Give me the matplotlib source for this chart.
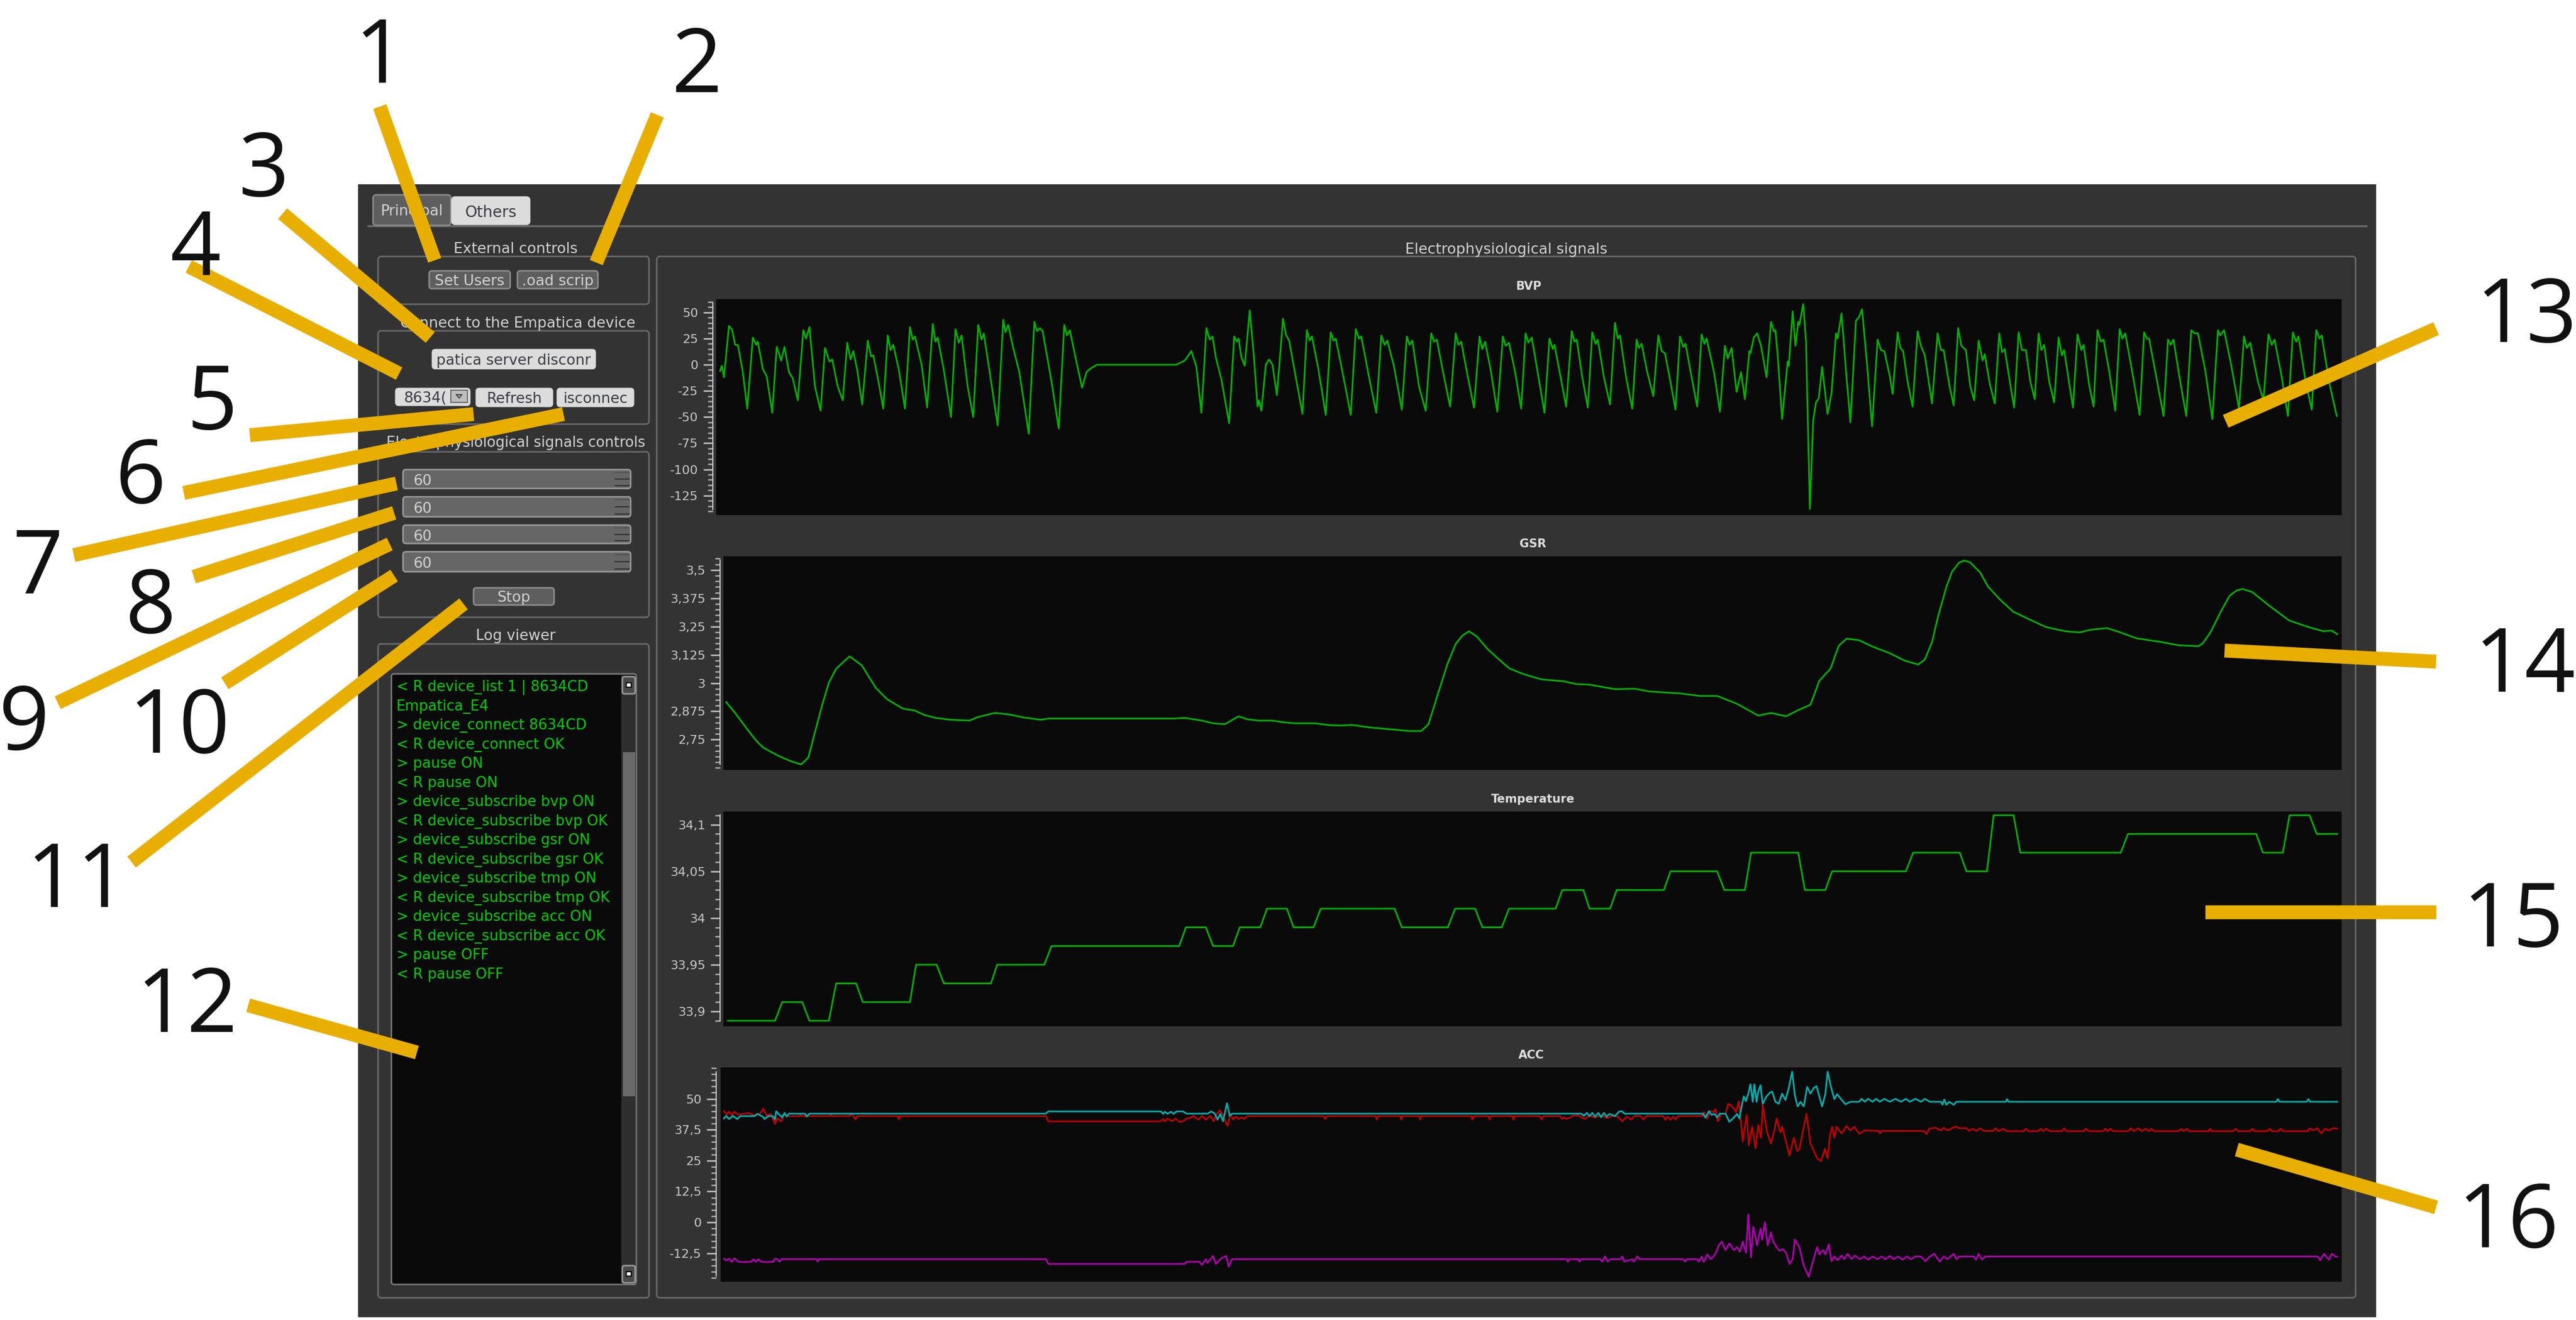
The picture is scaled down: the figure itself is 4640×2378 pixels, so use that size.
import matplotlib
matplotlib.use("Agg")
import matplotlib.pyplot as plt
from matplotlib.patches import FancyBboxPatch, Rectangle
from matplotlib.ticker import FixedLocator, FuncFormatter, MultipleLocator

W, H = 4640, 2378

# ---------------- data (x = sample number, y = signal value) ----------------
bvp_x = [0,3,7,16,22,27,32,41,49,59,65,68,77,84,94,102,110,116,124,131,140,150,155,161,171,181,189,197,202,212,221,229,235,240,247,256,266,272,276,286,294,302,307,312,322,333,342,347,351,363,373,383,388,392,403,416,424,430,435,446,456,465,471,475,485,500,510,514,519,528,539,556,566,571,576,581,597,610,620,625,630,641,652,660,669,679,822,837,849,858,867,876,882,887,893,903,917,926,931,934,939,945,954,962,968,971,975,983,989,995,1003,1014,1019,1025,1036,1049,1057,1062,1066,1077,1091,1100,1105,1109,1120,1136,1145,1151,1155,1169,1182,1191,1197,1202,1214,1228,1237,1242,1247,1259,1271,1281,1286,1291,1303,1315,1325,1330,1335,1347,1358,1368,1373,1378,1388,1400,1410,1415,1421,1432,1443,1451,1456,1462,1472,1485,1494,1500,1503,1513,1524,1534,1539,1543,1553,1563,1571,1577,1581,1592,1603,1612,1617,1621,1632,1643,1651,1655,1660,1670,1681,1690,1696,1702,1711,1721,1729,1735,1739,1750,1760,1768,1773,1777,1791,1801,1810,1815,1822,1831,1839,1846,1854,1856,1862,1868,1875,1885,1893,1898,1901,1905,1913,1923,1925,1932,1937,1942,1944,1951,1956,1963,1969,1974,1979,1985,1995,2002,2010,2013,2020,2029,2036,2046,2052,2057,2066,2075,2085,2091,2097,2107,2112,2121,2126,2131,2139,2148,2157,2163,2170,2183,2193,2199,2204,2214,2222,2230,2236,2244,2252,2259,2267,2274,2278,2287,2296,2304,2309,2314,2324,2331,2339,2345,2352,2360,2368,2375,2380,2385,2394,2403,2411,2417,2421,2431,2437,2445,2452,2456,2466,2474,2481,2487,2492,2503,2513,2521,2526,2531,2543,2557,2565,2570,2574,2586,2600,2608,2613,2618,2630,2641,2650,2656,2662,2675,2688,2698,2702,2709,2721,2736,2745,2750,2756,2770,2780,2789,2795,2800,2813,2824,2833,2839,2843,2856,2867,2875,2881,2885,2898,2912]
bvp_y = [-6,-1,-12,37,33,19,19,-7,-42,26,19,22,-4,-11,-46,17,4,17,-7,-13,-34,33,25,36,-21,-44,16,3,5,-21,-34,21,5,13,-5,-38,23,8,9,-18,-42,28,14,19,-5,-42,36,24,27,0,-41,39,22,26,-5,-50,34,21,28,-21,-50,38,24,30,-5,-58,43,31,38,16,-7,-66,41,32,35,32,-16,-61,38,28,33,5,-22,-7,-3,0,0,4,13,-2,-46,35,24,27,7,-14,-56,27,22,25,7,-1,52,5,-40,-34,-44,0,5,0,-29,44,29,23,-9,-47,33,23,27,-2,-48,31,23,25,-4,-48,34,25,27,-12,-46,28,19,23,-2,-43,27,19,23,-21,-44,30,22,24,-9,-40,30,19,22,-12,-41,27,15,22,-5,-45,27,18,21,-7,-42,30,21,26,-5,-46,25,15,19,-9,-40,32,22,24,-12,-41,31,20,24,-12,-38,40,25,28,-12,-42,24,16,20,-7,-30,28,13,11,-14,-43,27,17,20,-12,-40,29,20,25,-9,-45,18,6,16,-26,-7,-33,13,11,26,30,18,-12,41,32,33,9,-52,3,-1,51,18,41,38,58,23,-138,-53,-36,-32,-2,-47,-27,30,25,49,-12,-55,42,46,53,0,-59,24,14,13,-11,-28,31,16,13,-16,-40,32,18,9,-37,30,14,14,-19,-39,35,18,14,-21,-34,23,4,10,-18,-37,30,12,15,-19,-41,31,14,14,-16,-33,30,14,19,-16,-36,26,9,14,-21,-41,29,14,19,-19,-40,33,22,24,-9,-44,34,25,30,-5,-48,31,25,25,-9,-49,24,19,24,-16,-49,33,30,30,-5,-52,33,28,33,2,-42,27,16,21,-16,-34,29,19,24,-12,-49,31,22,27,-16,-43,33,25,28,-16,-49]

gsr_x = [0,15,30,45,56,66,81,96,117,135,148,158,173,185,198,222,244,270,290,318,339,357,377,403,438,454,484,510,535,566,581,806,826,857,877,898,923,938,959,984,1005,1025,1061,1086,1107,1127,1158,1199,1229,1252,1265,1280,1299,1314,1326,1338,1352,1372,1400,1412,1438,1469,1509,1530,1555,1601,1637,1662,1719,1754,1785,1821,1859,1882,1909,1933,1953,1969,1989,2004,2018,2040,2065,2096,2122,2147,2159,2172,2183,2198,2208,2221,2231,2241,2259,2273,2295,2318,2346,2377,2412,2438,2458,2487,2509,2540,2586,2616,2652,2660,2673,2693,2708,2721,2732,2749,2780,2815,2851,2877,2892,2902]
gsr_y = [2.916,2.871,2.822,2.773,2.740,2.716,2.695,2.676,2.654,2.640,2.671,2.765,2.904,3.002,3.063,3.118,3.079,2.977,2.928,2.887,2.879,2.859,2.846,2.838,2.834,2.850,2.868,2.861,2.848,2.838,2.843,2.843,2.846,2.834,2.822,2.818,2.853,2.840,2.834,2.834,2.826,2.822,2.822,2.814,2.812,2.815,2.804,2.795,2.788,2.788,2.818,2.936,3.083,3.173,3.210,3.229,3.206,3.149,3.087,3.063,3.038,3.016,3.008,2.996,2.993,2.973,2.975,2.963,2.954,2.943,2.943,2.908,2.856,2.868,2.853,2.883,2.904,3.010,3.063,3.165,3.196,3.190,3.161,3.132,3.100,3.082,3.104,3.181,3.296,3.426,3.492,3.533,3.542,3.533,3.488,3.426,3.368,3.316,3.283,3.248,3.229,3.224,3.236,3.243,3.226,3.198,3.181,3.167,3.163,3.177,3.222,3.320,3.386,3.410,3.416,3.402,3.341,3.277,3.247,3.229,3.232,3.216]

tmp_x = [1,86,99,135,148,183,196,232,244,329,340,377,390,475,486,571,584,814,826,862,875,911,923,960,972,1008,1020,1056,1069,1202,1215,1298,1311,1347,1360,1395,1408,1492,1504,1542,1553,1590,1602,1687,1699,1783,1796,1833,1844,1929,1941,1978,1990,2123,2136,2220,2232,2269,2281,2317,2329,2510,2523,2754,2766,2802,2814,2850,2863,2900]
tmp_y = [33.89,33.89,33.91,33.91,33.89,33.89,33.93,33.93,33.91,33.91,33.95,33.95,33.93,33.93,33.95,33.95,33.97,33.97,33.99,33.99,33.97,33.97,33.99,33.99,34.01,34.01,33.99,33.99,34.01,34.01,33.99,33.99,34.01,34.01,33.99,33.99,34.01,34.01,34.03,34.03,34.01,34.01,34.03,34.03,34.05,34.05,34.03,34.03,34.07,34.07,34.03,34.03,34.05,34.05,34.07,34.07,34.05,34.05,34.11,34.11,34.07,34.07,34.09,34.09,34.07,34.07,34.11,34.11,34.09,34.09]

acc_red_x = [0,5,9,14,19,24,34,44,55,65,71,77,84,92,96,103,109,117,136,138,140,190,192,194,226,228,233,237,240,313,315,317,580,584,787,791,794,799,807,813,820,827,833,840,845,854,861,868,876,882,888,893,899,907,912,917,922,927,932,937,942,1080,1083,1086,1174,1176,1178,1218,1220,1222,1252,1254,1256,1346,1348,1350,1377,1379,1381,1420,1422,1424,1469,1473,1476,1506,1510,1513,1518,1529,1539,1549,1559,1569,1580,1590,1600,1610,1618,1626,1633,1641,1651,1656,1661,1692,1696,1700,1705,1710,1714,1718,1761,1765,1771,1776,1782,1786,1790,1796,1804,1809,1816,1823,1828,1833,1835,1842,1846,1852,1858,1863,1868,1871,1879,1886,1892,1896,1903,1906,1913,1919,1927,1933,1937,1943,1950,1957,1963,1969,1976,1983,1988,1992,1996,2000,2004,2013,2022,2029,2036,2045,2054,2080,2082,2085,2161,2166,2171,2182,2192,2197,2204,2212,2218,2225,2238,2243,2249,2256,2263,2269,2286,2290,2296,2304,2310,2341,2345,2349,2367,2372,2376,2382,2388,2410,2414,2418,2449,2453,2459,2484,2488,2492,2498,2502,2529,2534,2539,2547,2553,2561,2567,2571,2576,2620,2625,2629,2635,2639,2674,2677,2680,2718,2723,2727,2749,2753,2757,2780,2784,2788,2800,2804,2808,2853,2856,2863,2870,2877,2884,2891,2898,2906]
acc_red_y = [45,43.7,44.8,43.5,44.8,43.7,43.9,44.2,43.3,44,46,43.1,43.9,39.8,42.2,40.9,43.9,43,43,43.5,43,43,43.9,43,43,43.9,43,41.6,43,43,41.6,43,43,40.9,40.9,41.8,40.9,42,40.9,42,40.7,40.9,42,42.2,43.1,41.6,43.1,41.5,43.1,40.9,43.9,45.4,43.1,39,43.9,41.6,42.8,41.8,42.5,41.8,43,43,41.8,43,43,41.6,43,43,41.6,43,43,41.6,43,43,41.6,43,43,41.6,43,43,41.6,43,43,41.6,43,43,41.8,42.5,41.8,43.1,43.3,41.8,43.1,42.4,43.5,42.2,43.1,42.8,40.9,42.8,41.6,43.1,43,41.6,43,43,41.5,42.8,41.5,42.8,41.6,43,43,44.6,42,45,44.6,45.8,40.9,43.9,43.9,48,46.9,44.6,49,37.9,32.7,43.5,31.2,38.7,30,39.4,34.2,47.6,36.4,31.9,37.2,42,36.4,38.7,32.7,27,34.2,28.9,29.7,36.4,43.9,31.9,28.9,25.9,24.8,29.7,25.9,34.9,38.7,34.2,38.7,36,39,37.2,38.7,35.8,37.2,37,36,37,37,35.7,37.9,38.3,37.2,38.3,37.2,38.1,38.8,38.1,38.1,37,37.9,37,38.1,37,37,38.1,36.9,37.9,36.9,36.9,37.9,36.9,36.9,37.9,36.9,37.9,36.9,36.9,38.1,36.9,36.9,37.9,36.9,36.9,37.9,36.9,37.9,36.9,36.9,38.1,36.9,38.1,36.9,37.9,36.9,37.9,36.9,36.9,37.9,36.9,37.9,36.9,36.9,37.9,36.9,36.9,37.9,36.9,36.9,37.9,36.9,36.9,37.9,36.9,36.9,37.9,36.9,36.9,38.1,37.2,38.1,36,37.9,37.2,38.1,37.9]

acc_mag_x = [0,4,9,14,19,26,49,53,57,62,67,88,92,96,100,105,109,167,169,171,580,584,830,833,856,861,868,871,881,886,896,905,909,915,1518,1520,1523,1539,1541,1543,1578,1582,1587,1592,1597,1615,1618,1622,1636,1639,1645,1649,1728,1731,1734,1753,1756,1761,1765,1771,1778,1786,1792,1797,1804,1811,1819,1825,1830,1835,1841,1845,1850,1854,1861,1867,1870,1875,1880,1886,1890,1896,1901,1907,1913,1919,1925,1929,1937,1945,1954,1962,1969,1973,1980,1984,1990,1995,2000,2006,2013,2018,2024,2031,2037,2046,2054,2061,2069,2078,2085,2092,2100,2107,2115,2123,2131,2138,2146,2156,2164,2172,2180,2190,2197,2204,2215,2220,2225,2251,2255,2260,2266,2272,2870,2875,2882,2891,2896,2903,2906]
acc_mag_y = [-14.7,-15.4,-14.7,-16,-14.5,-16,-16,-14.9,-16,-14.9,-16,-16,-14.7,-14.9,-15.9,-14.7,-14.9,-14.9,-15.9,-14.9,-14.9,-16.8,-16.8,-16,-15.9,-17.2,-14.9,-16.4,-13.6,-16.8,-14.5,-13.6,-17.9,-14.9,-14.9,-15.9,-14.9,-14.9,-15.9,-14.9,-14.9,-15.9,-13.8,-15.9,-14.9,-14.9,-13.8,-15.9,-14.9,-15.9,-13.8,-14.9,-14.9,-15.9,-14.9,-14.9,-15.9,-13.8,-16,-13,-14.9,-12.7,-9.3,-7.8,-11.2,-8.5,-11.2,-10,-11.9,-7.8,-12.3,3.2,-14.2,-1.8,-9.3,-2.5,-7,0.1,-9.3,-4,-7.8,-10,-11.5,-10.8,-12.3,-16.8,-14.9,-6.9,-10,-17.5,-22,-15.3,-10,-13,-11.2,-13,-8.9,-15.7,-13.8,-15.3,-13.4,-14.9,-12.7,-14.9,-13.4,-14.9,-13.8,-15.1,-13.8,-14.9,-13.8,-14.9,-13.6,-14.9,-13.8,-15.1,-13.8,-14.9,-13.8,-13.8,-15.7,-13.8,-12.7,-15.9,-13.8,-14.9,-12.7,-14.9,-13.8,-13.8,-15.1,-12.7,-15.1,-13.8,-13.8,-15.3,-12.7,-15.1,-12.7,-13.9,-13.9]

acc_cyan_x = [0,4,9,16,24,29,55,60,70,73,80,88,92,94,98,105,109,113,117,146,149,154,580,584,787,791,794,799,805,810,815,827,833,871,878,884,889,894,899,906,911,915,1544,1549,1554,1559,1564,1569,1575,1580,1585,1590,1595,1605,1612,1617,1623,1629,1763,1768,1774,1779,1784,1789,1794,1804,1811,1819,1825,1829,1833,1837,1841,1845,1849,1853,1856,1860,1863,1867,1871,1878,1884,1888,1894,1900,1906,1912,1918,1924,1929,1934,1939,1945,1951,1957,1963,1968,1978,1984,1988,1994,2000,2005,2012,2020,2029,2045,2049,2055,2061,2069,2075,2082,2090,2100,2110,2120,2129,2136,2146,2156,2163,2172,2192,2195,2198,2202,2207,2215,2220,2309,2311,2314,2796,2799,2802,2851,2854,2857,2906]
acc_cyan_y = [42,43.1,41.8,43.1,41.8,43,43,43.9,42.8,41.8,43,43,41.6,45,43.9,42.5,44.3,42.8,44,44,42.8,44,44,44.9,44.9,43.9,44.8,43.9,44.8,43.9,44.9,44.9,44,44,44.9,44,41.6,43.9,40.9,48.2,43.1,44,44,43.1,44.3,43,44.3,42.8,44.3,42.5,44.3,42.8,43.9,43,44.8,45,43.9,44,44,42.4,45,43.5,43.9,42.5,44,44,40.7,42.4,43.9,42,46.9,51,49.1,52.1,55.9,48.8,55.9,48.8,52.9,55.5,48,51,52.5,52.9,48.8,48,52.1,49.5,54.4,61,51.4,46.9,48.8,46.9,54.8,52.1,54.4,55.1,46.9,52.1,61,54.8,49.9,51.9,49.9,47.8,48.8,48.8,50,48.8,50,48.8,50,48.8,50,48.8,50,48.8,50,48.8,50,48.8,50,48.8,48.8,47.6,49.7,47.6,48.8,47.6,48.8,48.8,49.9,48.8,48.8,49.9,48.8,48.8,49.9,48.8,48.8]

bvp_ticks = [50, 25, 0, -25, -50, -75, -100, -125]
gsr_ticks = [3.5, 3.375, 3.25, 3.125, 3, 2.875, 2.75]
tmp_ticks = [34.1, 34.05, 34, 33.95, 33.9]
acc_ticks = [50, 37.5, 25, 12.5, 0, -12.5]

log_lines = ["< R device_list 1 | 8634CD", "Empatica_E4", "> device_connect 8634CD",
             "< R device_connect OK", "> pause ON", "< R pause ON",
             "> device_subscribe bvp ON", "< R device_subscribe bvp OK",
             "> device_subscribe gsr ON", "< R device_subscribe gsr OK",
             "> device_subscribe tmp ON", "< R device_subscribe tmp OK",
             "> device_subscribe acc ON", "< R device_subscribe acc OK",
             "> pause OFF", "< R pause OFF"]

# ---------------- figure and pixel layers ----------------
fig = plt.figure(figsize=(W / 100, H / 100), dpi=100, facecolor="white")
plt.rcParams["font.family"] = "DejaVu Sans"

def layer(z):
    a = fig.add_axes([0, 0, 1, 1], zorder=z)
    a.set_xlim(0, W)
    a.set_ylim(H, 0)
    a.axis("off")
    a.patch.set_alpha(0)
    return a

ui = layer(0)
top = layer(5)

PANEL, EDGE, TXT, GREEN = "#333333", "#6a6a6a", "#d2d2d2", "#00b400"
LIGHT, DARKBTN = "#dcdcdc", "#5e5e5e"

ui.add_patch(Rectangle((645, 332), 4280 - 645, 2373 - 332, fc=PANEL, ec="none"))

def box(x0, y0, x1, y1, fc="none", ec=EDGE, lw=2.0, r=6, z=2):
    ui.add_patch(FancyBboxPatch((x0 + r, y0 + r), x1 - x0 - 2 * r, y1 - y0 - 2 * r,
                                boxstyle=f"round,pad={r},rounding_size={r}",
                                fc=fc, ec=ec, lw=lw, zorder=z))

def label(x, y, s, c=TXT, size=19, ha="center", weight="normal", a=ui, z=6):
    a.text(x, y + 3, s, color=c, fontsize=size, ha=ha, va="center", weight=weight, zorder=z)

# tabs
ui.plot([663, 4262], [407, 407], color=EDGE, lw=2.5)
box(672, 351, 812, 406, fc="#5e5e5e", ec="#8a8a8a")
box(814, 355, 954, 404, fc=LIGHT, ec=LIGHT)
label(742, 378, "Principal", c=TXT)
label(884, 380, "Others", c="#3a3a44", size=20)

# group boxes
box(681, 462, 1169, 548)
box(681, 596, 1169, 764)
box(681, 814, 1169, 1112)
box(681, 1160, 1169, 2338)
box(1183, 462, 4243, 2338)
label(929, 446, "External controls")
label(933, 580, "Connect to the Empatica device")
label(929, 795, "Electrophysiological signals controls", size=18.5)
label(929, 1143, "Log viewer")
label(2713, 447, "Electrophysiological signals")

# buttons
for x0, y0, x1, y1, s, light in [
        (773, 488, 919, 520, "Set Users", False), (932, 488, 1077, 520, ".oad scrip", False),
        (779, 630, 1072, 664, "patica server disconr", True), (858, 700, 995, 732, "Refresh", True),
        (1004, 700, 1141, 732, "isconnec", True), (853, 1059, 998, 1090, "Stop", False)]:
    box(x0, y0, x1, y1, fc=LIGHT if light else DARKBTN, ec=LIGHT if light else "#8c8c8c", r=5)
    label((x0 + x1) / 2, (y0 + y1) / 2, s, c="#3a3a44" if light else TXT, size=19)

box(713, 700, 846, 730, fc=LIGHT, ec=LIGHT, r=5)
label(727, 715, "8634(", c="#3a3a44", ha="left")
ui.add_patch(Rectangle((812, 703), 30, 22, fc="#bdbdbd", ec="#555555", lw=1.2, zorder=4))
ui.plot([822, 832, 827, 822], [711, 711, 717, 711], color="#444444", lw=1.5, zorder=5)

# spin boxes
for y0, y1 in [(846, 880), (895, 931), (946, 979), (994, 1030)]:
    box(726, y0, 1136, y1, fc="#666666", ec="#9a9a9a", r=5)
    label(744, (y0 + y1) / 2 + 1, "60", ha="left")
    ym = (y0 + y1) / 2
    ui.plot([1108, 1133], [ym, ym], color="#333333", lw=1.6, zorder=5)
    ui.plot([1108, 1133], [y0 + 5, y0 + 5], color="#555555", lw=1.6, zorder=5)
    ui.plot([1108, 1133], [y1 - 5, y1 - 5], color="#333333", lw=1.6, zorder=5)

# log viewer
box(705, 1214, 1146, 2314, fc="#0a0a0a", ec="#7a7a7a", r=5)
ui.add_patch(Rectangle((1119, 1217), 26, 1095, fc="#2e2e2e", ec="none", zorder=3))
ui.add_patch(Rectangle((1122, 1355), 22, 620, fc="#6a6a6a", ec="none", zorder=4))
for y0 in (1219, 2280):
    box(1121, y0, 1144, y0 + 31, fc="#4a4a4a", ec="#9a9a9a", r=4, z=5)
    ui.add_patch(Rectangle((1128, y0 + 11), 9, 8, fc="white", ec="black", lw=1.5, zorder=6))
for i, s in enumerate(log_lines):
    ui.text(714, 1238 + i * 34.53, s, color="#00cc00", fontsize=18.6, ha="left", va="center", zorder=6)

# ---------------- signal panels ----------------
def panel(px, tick_vals, minor, title, title_x, title_y, ymap, xlim):
    x0, y0, x1, y1, spine_top, spine_bot, offset = px
    ax = fig.add_axes([x0 / W, 1 - y1 / H, (x1 - x0) / W, (y1 - y0) / H], zorder=2)
    ax.set_facecolor("#0a0a0a")
    ax.set_xlim(*xlim)
    ax.set_ylim(*ymap)
    for s in ("top", "right", "bottom"):
        ax.spines[s].set_visible(False)
    sp = ax.spines["left"]
    sp.set_position(("outward", offset))
    sp.set_color("#d0d0d0")
    sp.set_linewidth(1.4)
    to_val = lambda p: ymap[1] + (y0 - p) / (y1 - y0) * (ymap[1] - ymap[0])
    sp.set_bounds(to_val(spine_bot), to_val(spine_top))
    ax.set_xticks([])
    ax.yaxis.set_major_locator(FixedLocator(tick_vals))
    ax.yaxis.set_minor_locator(MultipleLocator(minor))
    ax.yaxis.set_major_formatter(FuncFormatter(lambda v, _: f"{v:g}".replace(".", ",")))
    ax.tick_params(axis="y", which="major", length=12, width=2.0, color="#bdbdbd",
                   labelcolor="#c8c8c8", labelsize=16, pad=7)
    ax.tick_params(axis="y", which="minor", length=6.5, width=1.8, color="#b0b0b0")
    ui.text(title_x, title_y + 3, title, color="#dddddd", fontsize=15, weight="bold",
            ha="center", va="center", zorder=6)
    return ax

LW = 2.1

a1 = panel((1290, 539, 4218, 928, 546, 918, 4.3), bvp_ticks, 5, "BVP", 2753, 513, (-143.7, 62.6), (-7, 2921))
a1.plot(bvp_x, bvp_y, color=GREEN, lw=LW)

a2 = panel((1303, 1002, 4218, 1387, 1009, 1377, 4.3), gsr_ticks, 0.025, "GSR", 2761, 977, (2.616, 3.561), (-5, 2910))
a2.plot(gsr_x, gsr_y, color=GREEN, lw=LW)

a3 = panel((1303, 1462, 4218, 1849, 1468, 1839, 4.3), tmp_ticks, 0.01, "Temperature", 2761, 1437, (33.884, 34.114), (-7, 2908))
a3.plot(tmp_x, tmp_y, color=GREEN, lw=LW)

a4 = panel((1298, 1923, 4218, 2309, 1931, 2299, 5.5), acc_ticks, 2.5, "ACC", 2758, 1898, (-24.0, 62.7), (-6, 2914))
a4.plot(acc_red_x, acc_red_y, color="#c00000", lw=LW)
a4.plot(acc_mag_x, acc_mag_y, color="#b000b0", lw=LW)
a4.plot(acc_cyan_x, acc_cyan_y, color="#00b0b0", lw=LW)

# ---------------- numbered callouts ----------------
ORANGE = "#E8AE00"
callouts = [
    ("1", 684, 95, 684, 192, 783, 469), ("2", 1255, 112, 1184, 207, 1074, 473),
    ("3", 476, 299, 509, 385, 775, 608), ("4", 352, 441, 340, 480, 719, 673),
    ("5", 382, 719, 450, 784, 853, 746), ("6", 254, 852, 331, 888, 1015, 746),
    ("7", 68, 1015, 133, 1000, 714, 871), ("8", 272, 1086, 349, 1039, 710, 924),
    ("9", 44, 1296, 104, 1266, 702, 980), ("10", 323, 1302, 405, 1231, 710, 1037),
    ("11", 139, 1580, 237, 1553, 835, 1088), ("12", 337, 1805, 447, 1811, 751, 1896),
    ("13", 4551, 562, 4388, 592, 4009, 759), ("14", 4548, 1192, 4388, 1192, 4007, 1172),
    ("15", 4527, 1651, 4388, 1643, 3972, 1643), ("16", 4518, 2193, 4388, 2175, 4029, 2071),
]
for s, tx, ty, x0, y0, x1, y1 in callouts:
    top.plot([x0, x1], [y0, y1], color=ORANGE, lw=18, solid_capstyle="butt", zorder=7)
    top.text(tx, ty + 12, s, color="#111111", fontsize=115, family="Open Sans",
             ha="center", va="center", zorder=8)

fig.savefig("out.png", dpi=100, facecolor="white")
